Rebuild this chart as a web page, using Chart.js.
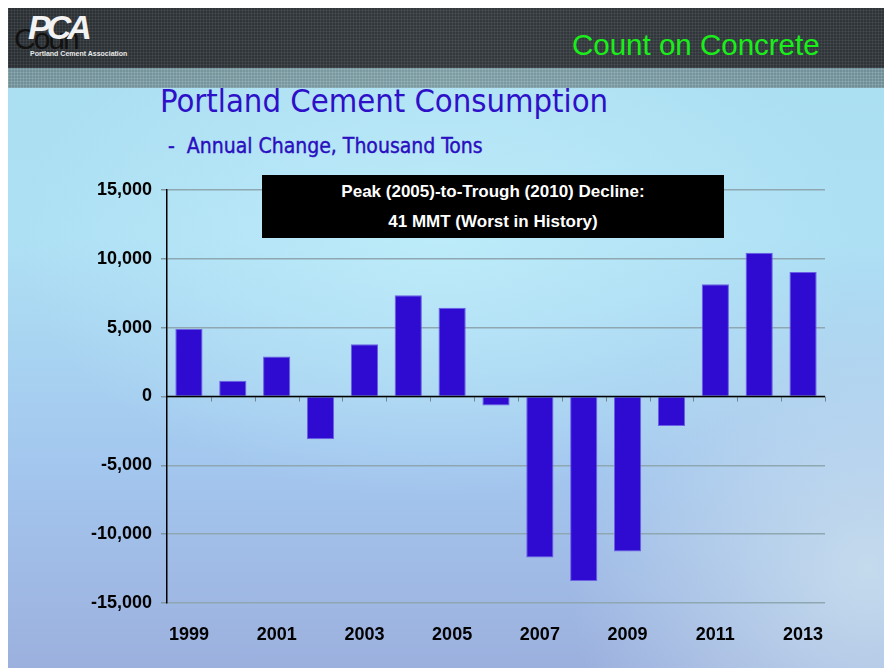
<!DOCTYPE html>
<html>
<head>
<meta charset="utf-8">
<script src="https://cdn.jsdelivr.net/npm/chart.js@4"></script>
<style>
    html, body { margin: 0; padding: 0; background: #fff; }
    #slide {
        position: absolute; left: 8px; top: 8px; width: 876px; height: 660px; overflow: hidden;
        background:
            radial-gradient(ellipse 420px 260px at 430px 230px, rgba(190, 236, 250, 0.9), rgba(190, 236, 250, 0)),
            radial-gradient(ellipse 300px 300px at 860px 560px, rgba(200, 222, 238, 0.9), rgba(200, 222, 238, 0)),
            linear-gradient(to bottom, #a9def0 0%, #aee0f4 35%, #a3c6ee 70%, #9cb0de 100%);
    }
    #header {
        position: absolute; left: 0; top: 0; width: 876px; height: 60px;
        background:
            repeating-linear-gradient(90deg, rgba(255,255,255,0.06) 0 1px, transparent 1px 3px),
            repeating-linear-gradient(0deg, rgba(255,255,255,0.06) 0 1px, transparent 1px 3px),
            linear-gradient(to right, #2b3034, #33393d 50%, #2e3438);
    }
    #stripe {
        position: absolute; left: 0; top: 60px; width: 876px; height: 20px;
        background:
            repeating-linear-gradient(90deg, rgba(255,255,255,0.12) 0 1px, transparent 1px 3px),
            repeating-linear-gradient(0deg, rgba(255,255,255,0.12) 0 1px, transparent 1px 3px),
            linear-gradient(to right, #6f9098, #7c9ca4 50%, #6e8f98);
    }
    .txt { position: absolute; white-space: nowrap; }
    canvas { position: absolute; left: 0; top: 0; }
    #note {
        position: absolute; left: 262px; top: 175px; width: 462px; height: 63px;
        background: #000; color: #fff; text-align: center;
        font: bold 17px "Liberation Sans", Arial, sans-serif;
    }
</style>
</head>
<body>
<div id="slide">
    <div id="header"></div>
    <div id="stripe"></div>
</div>
<div class="txt" style="left:14px;top:22px;font:30px 'Liberation Sans',Arial,sans-serif;color:#111;letter-spacing:-2px">Coun</div>
<div class="txt" style="left:28px;top:8px;font:bold italic 34px 'Liberation Sans',Arial,sans-serif;color:#f2f2f2;letter-spacing:-4px">PCA</div>
<div class="txt" style="left:30px;top:50px;font:bold 7px 'Liberation Sans',Arial,sans-serif;color:#e8e8e8">Portland Cement Association</div>
<div class="txt" style="left:572px;top:28px;font:29.5px 'Liberation Sans',Arial,sans-serif;color:#19ee19">Count on Concrete</div>
<div class="txt" style="left:160px;top:82px;font:32.5px 'DejaVu Sans Condensed','DejaVu Sans',sans-serif;color:#2d10c8">Portland Cement Consumption</div>
<div class="txt" style="left:168px;top:134px;font:21px 'DejaVu Sans Condensed','DejaVu Sans',sans-serif;color:#2a0fc0;-webkit-text-stroke:0.4px #2a0fc0">-&nbsp; Annual Change, Thousand Tons</div>

<canvas id="grafico" width="884" height="668"></canvas>

<div id="note">
    <div style="position:absolute;left:0;right:0;top:7px">Peak (2005)-to-Trough (2010) Decline:</div>
    <div style="position:absolute;left:0;right:0;top:37px">41 MMT (Worst in History)</div>
</div>

<script>
// datos
let anios = ['1999', '2000', '2001', '2002', '2003', '2004', '2005', '2006',
    '2007', '2008', '2009', '2010', '2011', '2012', '2013']
let cambioAnual = [4900, 1150, 2900, -3100, 3800, 7350, 6450, -650,
    -11700, -13400, -11250, -2150, 8150, 10450, 9050]
let ticksY = [-15000, -10000, -5000, 0, 5000, 10000, 15000]

const fuente = '"Liberation Sans", Arial, sans-serif'

// marcas pequeñas sobre la linea de cero, entre categorias
const marcasCero = {
    id: 'marcasCero',
    afterDatasetsDraw(chart) {
        const x = chart.scales.x
        const y = chart.scales.y
        const y0 = y.getPixelForValue(0)
        const ancho = (x.right - x.left) / anios.length
        const ctx = chart.ctx
        ctx.save()
        ctx.strokeStyle = '#6f8590'
        ctx.lineWidth = 1
        for (let i = 1; i <= anios.length; i++) {
            let px = Math.round(x.left + ancho * i) + 0.5
            ctx.beginPath()
            ctx.moveTo(px, y0)
            ctx.lineTo(px, y0 + 5)
            ctx.stroke()
        }
        ctx.strokeStyle = '#000'
        ctx.lineWidth = 1.5
        ctx.beginPath()
        ctx.moveTo(x.left, y0)
        ctx.lineTo(x.right, y0)
        ctx.stroke()
        ctx.restore()
    }
}

const canvas = document.getElementById('grafico')

var grafico = new Chart(canvas, {
    type: 'bar',
    data: {
        labels: anios,
        datasets: [{
            label: 'Annual Change',
            data: cambioAnual,
            backgroundColor: '#2f0bd2',
            borderColor: '#6b5fe6',
            borderWidth: 1,
            barPercentage: 0.62,
            categoryPercentage: 1
        }]
    },
    options: {
        responsive: false,
        devicePixelRatio: 1,
        animation: false,
        layout: { padding: { left: 0, top: 190, right: 59, bottom: 0 } },
        plugins: {
            legend: { display: false },
            tooltip: { enabled: false }
        },
        scales: {
            x: {
                grid: { display: false },
                border: { display: false },
                ticks: {
                    autoSkip: false,
                    maxRotation: 0,
                    padding: 13,
                    color: '#000',
                    font: { family: fuente, size: 18, weight: 'bold' },
                    callback: function (val, i) { return i % 2 === 0 ? anios[i] : '' }
                },
                afterFit: function (scale) { scale.height = 65 }
            },
            y: {
                min: -15000,
                max: 15000,
                afterBuildTicks: function (scale) {
                    scale.ticks = ticksY.map(v => ({ value: v }))
                },
                grid: {
                    color: '#8ea7b1',
                    lineWidth: 1.5,
                    tickLength: 6,
                    tickColor: '#7f96a0'
                },
                border: { color: '#000', width: 1.5 },
                ticks: {
                    padding: 9,
                    color: '#000',
                    font: { family: fuente, size: 18, weight: 'bold' },
                    callback: function (v) { return v.toLocaleString('en-US') }
                },
                afterFit: function (scale) { scale.width = 167 }
            }
        }
    },
    plugins: [marcasCero]
})
</script>
</body>
</html>
